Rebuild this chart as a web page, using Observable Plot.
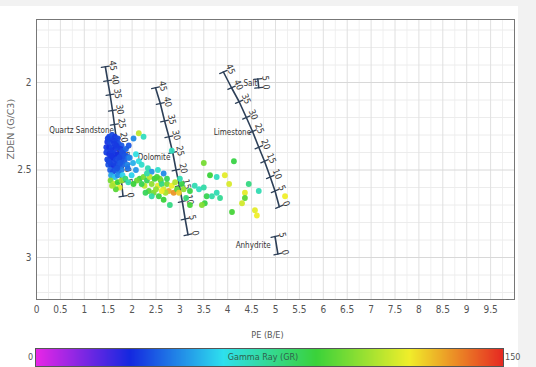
<!DOCTYPE html>
<html>
<head>
<meta charset="utf-8">
<script src="https://cdn.jsdelivr.net/npm/d3@7"></script>
<script src="https://cdn.jsdelivr.net/npm/@observablehq/plot@0.6"></script>
<style>
html,body{margin:0;padding:0;background:#f2f2f2;}
#wrap{position:relative;width:536px;height:367px;overflow:hidden;}
#panel{position:absolute;left:0;top:6px;width:518px;height:361px;background:#fff;}
#chart{position:absolute;left:0;top:0;}
#bar{position:absolute;left:36px;top:349px;width:467px;height:17px;outline:1px solid #555;line-height:0;}
.lbl{position:absolute;font:9px "Liberation Sans Narrow","DejaVu Sans Condensed","Liberation Sans",sans-serif;color:#555;white-space:nowrap;}
</style>
</head>
<body>
<div id="wrap">
  <div id="panel"></div>
  <div id="chart"></div>
  <div id="bar"></div>
  <div class="lbl" style="left:28px;top:352px;">0</div>
  <div class="lbl" style="left:505px;top:352px;">150</div>
  <div class="lbl" style="left:263px;top:352px;transform:translateX(-50%);color:#2f5f4c;">Gamma Ray (GR)</div>
</div>
<script>
// ---- scatter data: PE (B/E), ZDEN (G/C3), Gamma Ray (GR) ----
const pe = [
 1.52,1.58,1.64,1.70,1.48,1.54,1.60,1.66,1.72,1.78,1.46,1.52,1.58,1.64,1.70,1.76,1.82,1.87,
 1.46,1.52,1.58,1.64,1.70,1.76,1.82,1.88,1.48,1.54,1.60,1.66,1.72,1.78,1.84,1.50,1.56,1.62,
 1.68,1.74,1.80,1.54,1.60,1.66,1.72,1.78,1.49,1.55,1.61,1.67,1.73,1.79,1.85,1.57,1.63,1.69,
 1.51,1.75,
 1.56,1.64,1.70,1.80,1.90,1.92,1.91,
 1.55,1.62,1.70,1.78,1.74,1.86,1.92,1.66,1.58,
 2.14,2.24,2.03,1.93,2.08,1.95,2.14,2.20,2.33,2.08,1.99,2.41,2.54,2.66,2.02,
 2.16,2.24,2.31,2.37,2.41,2.47,2.54,2.60,2.62,2.66,2.73,2.77,2.83,2.87,2.94,2.98,3.04,3.00,
 3.08,2.26,2.35,2.45,2.20,2.10,2.03,2.41,2.28,2.56,2.66,2.79,2.58,2.73,2.52,2.31,2.70,2.90,
 2.50,2.62,
 3.21,3.31,3.40,3.50,3.56,3.67,3.77,3.84,3.52,3.46,3.21,3.50,3.77,3.94,4.03,2.83,4.44,4.65,
 4.36,4.36,4.30,4.09,4.57,4.61,5.20,3.63,3.13,4.13
];
const zden = [
 2.31,2.30,2.31,2.32,2.34,2.34,2.33,2.34,2.35,2.36,2.37,2.37,2.37,2.38,2.37,2.38,2.39,2.38,
 2.40,2.41,2.40,2.41,2.41,2.42,2.41,2.42,2.44,2.44,2.43,2.44,2.45,2.44,2.45,2.47,2.47,2.48,
 2.47,2.48,2.47,2.50,2.51,2.50,2.51,2.50,2.32,2.39,2.46,2.36,2.43,2.40,2.42,2.42,2.35,2.49,
 2.45,2.46,
 2.53,2.54,2.53,2.53,2.47,2.43,2.49,
 2.56,2.58,2.57,2.56,2.60,2.55,2.57,2.61,2.59,
 2.29,2.31,2.32,2.36,2.41,2.43,2.45,2.47,2.49,2.50,2.53,2.51,2.50,2.52,2.46,
 2.55,2.54,2.56,2.54,2.58,2.55,2.59,2.56,2.58,2.61,2.58,2.62,2.59,2.63,2.61,2.63,2.58,2.55,
 2.61,2.59,2.62,2.63,2.58,2.56,2.58,2.65,2.63,2.65,2.67,2.70,2.55,2.55,2.54,2.52,2.63,2.57,
 2.61,2.62,
 2.62,2.59,2.61,2.60,2.65,2.65,2.63,2.66,2.69,2.70,2.70,2.46,2.54,2.53,2.58,2.39,2.58,2.62,
 2.63,2.66,2.69,2.74,2.73,2.76,2.65,2.53,2.66,2.45
];
const gr = [
 34,36,33,35,32,35,33,34,36,38,33,31,34,32,35,33,37,40,
 34,32,35,33,31,34,36,39,35,33,31,34,36,35,38,37,34,32,
 35,37,40,39,36,38,41,44,34,33,34,33,35,36,37,32,33,37,
 35,38,
 50,55,46,58,45,42,42,
 100,112,90,105,118,80,70,95,108,
 112,68,46,38,62,45,62,66,70,48,58,48,66,46,52,
 88,100,85,112,104,90,118,92,78,115,100,130,120,134,95,125,88,70,
 105,112,95,100,86,98,90,72,85,88,90,78,100,85,92,72,108,110,
 104,120,
 88,70,68,72,86,72,70,75,88,102,92,100,68,118,116,68,78,70,
 118,95,115,92,118,120,120,90,80,88
];

// ---- colour bar stops (Gamma Ray) ----
const grStops = [0, 30, 60, 90, 120, 150];
const grColors = ["#e626e6", "#1428e0", "#2ee0ee", "#3ad23a", "#f0ee2a", "#e62a22"];

// ---- porosity overlay lines (porosity %, PE, ZDEN) ----
const phi = [0, 5, 10, 15, 20, 25, 30, 35, 40, 45];
const quartzPE  = [1.81, 1.78, 1.74, 1.71, 1.67, 1.63, 1.59, 1.54, 1.49, 1.44];
const quartzRho = [2.65, 2.57, 2.49, 2.40, 2.32, 2.24, 2.16, 2.07, 1.99, 1.91];
const dolomitePE  = [3.17, 3.11, 3.05, 2.99, 2.92, 2.85, 2.77, 2.68, 2.59, 2.49];
const dolomiteRho = [2.87, 2.78, 2.68, 2.59, 2.50, 2.40, 2.31, 2.22, 2.12, 2.03];
const limePE  = [5.08, 4.99, 4.89, 4.77, 4.65, 4.52, 4.39, 4.24, 4.08, 3.91];
const limeRho = [2.71, 2.62, 2.54, 2.45, 2.37, 2.28, 2.20, 2.11, 2.03, 1.94];
const saltPhi = [0, 5];
const saltPE  = [4.65, 4.63];
const saltRho = [2.03, 1.98];
const anhPhi = [0, 5];
const anhPE  = [5.05, 4.99];
const anhRho = [2.98, 2.88];

const lithNames = ["Quartz Sandstone", "Dolomite", "Limestone", "Salt", "Anhydrite"];
const lithPE  = [1.62, 2.80, 4.49, 4.62, 4.90];
const lithRho = [2.275, 2.43, 2.285, 2.005, 2.93];

// ---- axis ticks / grid ----
const xTicks = [0,0.5,1,1.5,2,2.5,3,3.5,4,4.5,5,5.5,6,6.5,7,7.5,8,8.5,9,9.5];
const xMinor = [0.25,0.75,1.25,1.75,2.25,2.75,3.25,3.75,4.25,4.75,5.25,5.75,6.25,6.75,7.25,7.75,8.25,8.75,9.25,9.75];
const yTicks = [2, 2.5, 3];
const yMinor = [1.7,1.8,1.9,2.1,2.2,2.3,2.4,2.6,2.7,2.8,2.9,3.1,3.2];

const points = pe.map((v, i) => ({pe: v, zden: zden[i], gr: gr[i]}));
const lineColor = "#2e4058";
const narrow = '"Liberation Sans Narrow","DejaVu Sans Condensed","Liberation Sans",sans-serif';

function porosity(phis, pes, rhos, angle) {
  const rows = phis.map((p, i) => ({phi: p, pe: pes[i], rho: rhos[i]}));
  const a = angle * Math.PI / 180, k = 7.5;
  return [
    Plot.line(rows, {x: "pe", y: "rho", stroke: lineColor, strokeWidth: 1.6}),
    Plot.vector(rows, {x: "pe", y: "rho", length: 8, rotate: angle, r: 0, anchor: "middle", stroke: lineColor, strokeWidth: 1.3}),
    Plot.text(rows, {x: "pe", y: "rho", text: d => String(d.phi), rotate: angle, textAnchor: "middle", lineAnchor: "middle",
      dx: k * Math.sin(a), dy: -k * Math.cos(a), fontSize: 9, fill: "#333"})
  ];
}

const chart = Plot.plot({
  width: 536,
  height: 340,
  marginLeft: 36,
  marginRight: 22,
  marginTop: 19,
  marginBottom: 41,
  style: {fontFamily: narrow, fontSize: "10px", color: "#555", background: "transparent"},
  x: {domain: [0, 10], ticks: xTicks, tickSize: 0, tickPadding: 6, label: null, tickFormat: d => String(d)},
  y: {domain: [1.64, 3.24], reverse: true, ticks: yTicks, tickSize: 0, tickPadding: 5, label: null, tickFormat: d => String(d)},
  color: {type: "linear", domain: grStops, range: grColors},
  marks: [
    Plot.ruleX(xMinor, {stroke: "#f0f0f0"}),
    Plot.ruleY(yMinor, {stroke: "#ececec"}),
    Plot.ruleX(xTicks, {stroke: "#e0e0e0"}),
    Plot.ruleY(yTicks, {stroke: "#d8d8d8"}),
    ...porosity(phi, quartzPE, quartzRho, 82.2),
    ...porosity(phi, dolomitePE, dolomiteRho, 77.7),
    ...porosity(phi, limePE, limeRho, 67.4),
    ...porosity(saltPhi, saltPE, saltRho, 84),
    ...porosity(anhPhi, anhPE, anhRho, 78),
    Plot.text(lithNames, {x: (d, i) => lithPE[i], y: (d, i) => lithRho[i], text: d => d, textAnchor: "end", fontSize: 8, fill: "#333"}),
    Plot.dot(points, {x: "pe", y: "zden", fill: "gr", r: 2.9, fillOpacity: 0.95}),
    Plot.frame({stroke: "#777"}),
    Plot.text(["PE (B/E)"], {frameAnchor: "bottom", dy: 38, dx: -8, text: d => d, fontSize: 9, fill: "#555"}),
    Plot.text(["ZDEN (G/C3)"], {frameAnchor: "left", dx: -26, rotate: -90, text: d => d, fontSize: 9.5, fill: "#666", fontFamily: "DejaVu Sans", style: "letter-spacing:1px"})
  ]
});
document.getElementById("chart").appendChild(chart);

const legend = Plot.legend({
  color: {type: "linear", domain: grStops, range: grColors},
  width: 467, height: 17, marginTop: 0, marginBottom: 0, marginLeft: 0, marginRight: 0,
  ticks: [], tickSize: 0, label: null
});
document.getElementById("bar").appendChild(legend);
</script>
</body>
</html>
